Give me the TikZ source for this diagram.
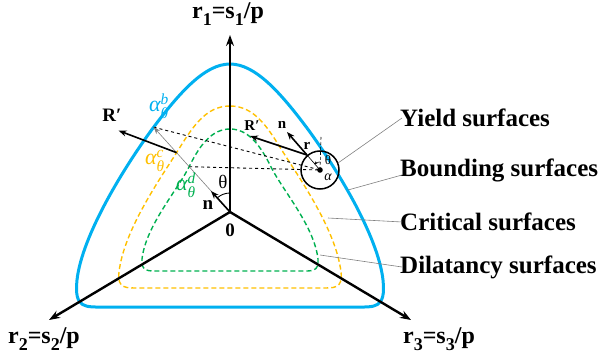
\documentclass[tikz,border=0pt]{standalone}
\usepackage{amsmath}
\usepackage{fontspec}
\setmainfont{Liberation Serif}
\usetikzlibrary{arrows.meta, positioning, calc, intersections}
\definecolor{boundblue}{RGB}{0,176,240}
\definecolor{critorange}{RGB}{255,192,0}
\definecolor{dilagreen}{RGB}{0,176,80}
\newcommand{\axsub}[1]{\raisebox{-0.28em}{\fontsize{18}{18}\selectfont #1}}
\newcommand{\alab}[1]{$\text{\itshape α}^{\text{\itshape #1}}_{\text{\itshape θ}}$}

\begin{document}
\begin{tikzpicture}[x=1pt, y=-1pt,
  axis/.style={line width=2.4pt, -{Stealth[length=11pt,width=8pt]}},
  surf/.style={line width=1.4pt, dash pattern=on 5pt off 3pt},
  leader/.style={gray, line width=0.6pt},
  vec/.style={line width=1.6pt, -{Stealth[length=8pt,width=6pt]}},
  lbl/.style={font=\fontsize{25}{28}\selectfont\bfseries, anchor=west, inner sep=0pt},
  axlbl/.style={font=\fontsize{24}{26}\selectfont\bfseries, inner sep=0pt},
  sym/.style={font=\fontsize{19}{20}\selectfont\bfseries, inner sep=0pt},
  small/.style={font=\fontsize{15}{16}\selectfont\bfseries, inner sep=0pt},
  alpha/.style={font=\fontsize{22}{24}\selectfont, inner sep=0pt}]
  \useasboundingbox (0,0) rectangle (600,358);
  % points
  \coordinate (O) at (230,212);
  \coordinate (t1) at (230,35);
  \coordinate (t2) at (49,320);
  \coordinate (t3) at (411,320);
  \coordinate (A) at (320,170);
  \coordinate (P) at (307,155);
  \coordinate (Rs) at (250,136);
  \coordinate (ns) at (287,132);
  \coordinate (n0) at (211,191);
  \coordinate (ray) at ($(O)+(-0.669*220,-0.743*220)$);
  % Bounding surface
  \draw[boundblue, line width=3pt, name path=bound] (230,64) .. controls (205,64) and (180,92) .. (153,128)
    .. controls (125,166) and (82,235) .. (77,280) .. controls (74,309) and (85,307) .. (105,307)
    -- (355,307) .. controls (375,307) and (386,309) .. (383,280)
    .. controls (378,235) and (335,166) .. (307,128) .. controls (280,92) and (255,64) .. (230,64) -- cycle;
  % Critical surface
  \draw[critorange, surf, name path=crit] (230,106) .. controls (205,106) and (192,128) .. (177,152)
    .. controls (160,179) and (124,230) .. (119,272) .. controls (117,289) and (126,288) .. (140,288)
    -- (320,288) .. controls (334,288) and (343,289) .. (341,272)
    .. controls (336,230) and (300,179) .. (283,152) .. controls (268,128) and (255,106) .. (230,106) -- cycle;
  % Dilatancy surface
  \draw[dilagreen, surf, name path=dila] (230,129) .. controls (212,129) and (200,145) .. (190,165)
    .. controls (178,190) and (146,225) .. (142,259) .. controls (141,272) and (148,271) .. (160,271)
    -- (300,271) .. controls (312,271) and (319,272) .. (318,259)
    .. controls (314,225) and (282,190) .. (270,165) .. controls (260,145) and (248,129) .. (230,129) -- cycle;
  \path[name path=raypath] (O) -- (ray);
  \path[name intersections={of=raypath and bound, by=ab}];
  \path[name intersections={of=raypath and crit, by=ac}];
  \path[name intersections={of=raypath and dila, by=ad}];
  \coordinate (Rl) at ($(ac)+(-58,-22)$);
  % axes
  \draw[axis] (O) -- (t1);
  \draw[axis] (O) -- (t2);
  \draw[axis] (O) -- (t3);
  \node[axlbl] (r1) at (228,14) {r\axsub{1}=s\axsub{1}/p};
  \node[axlbl] (r2) at (44,339) {r\axsub{2}=s\axsub{2}/p};
  \node[axlbl] (r3) at (439,339) {r\axsub{3}=s\axsub{3}/p};
  \node[sym] (zero) at (230,230) {0};
  % mapping lines
  \draw[dashed, line width=0.9pt] (ab) -- (A);
  \draw[dashed, line width=0.9pt] (ad) -- (A);
  \draw[leader, -{Stealth[length=7pt,width=5pt]}] (O) -- (ab);
  \draw[vec] (O) -- (n0);
  \draw[line width=0.9pt] ($(O)+(0,-19)$) arc[start angle=270, end angle=228, radius=19];
  \node[sym, font=\fontsize{19}{20}\selectfont] (th0) at (223,182) {θ};
  \node[sym] (n0l) at (208,205) {n};
  \draw[vec] (ac) -- (Rl);
  \node[sym] (Rll) at (112,115) {R′};
  % labels of the surfaces
  \node[alpha, boundblue] (ablbl) at (159,106) {\alab{b}};
  \node[alpha, critorange] (aclbl) at (155,161) {\alab{c}};
  \node[alpha, dilagreen] (adlbl) at (186,185) {\alab{d}};
  % yield circle
  \draw[line width=1.5pt] (A) circle[radius=19];
  \fill (A) circle[radius=2.8];
  \draw[densely dashed, line width=0.6pt] (321,137) -- (A);
  \draw[line width=0.6pt] (A) -- (P);
  \draw[line width=0.6pt, -{Stealth[length=3pt,width=3pt]}] ($(A)+(0,-8)$) arc[start angle=270, end angle=225, radius=8];
  \draw[vec] (P) -- (Rs);
  \draw[vec] (P) -- (ns);
  \node[small] (Rsl) at (252,126) {R′};
  \node[small] (nsl) at (282,125) {n};
  \node[small] (rl) at (307,146) {r};
  \node[small, font=\fontsize{13}{14}\selectfont] (thl) at (328,160) {θ};
  \node[small, font=\fontsize{14}{14}\selectfont\itshape] (al) at (328,177) {α};
  % legend
  \node[lbl] (yield) at (400,118) {Yield surfaces};
  \node[lbl] (bound) at (400,170) {Bounding surfaces};
  \node[lbl] (crit) at (400,222) {Critical surfaces};
  \node[lbl] (dila) at (400,267) {Dilatancy surfaces};
  \coordinate (yt) at (338,163);
  \coordinate (bt) at (348,190);
  \coordinate (ct) at (328,218);
  \coordinate (dt) at (320,255);
  \draw[leader] ($(yield.west)+(2,0)$) -- (yt);
  \draw[leader] ($(bound.west)+(2,5)$) -- (bt);
  \draw[leader] ($(crit.west)+(2,0)$) -- (ct);
  \draw[leader] ($(dila.west)+(2,0)$) -- (dt);
\end{tikzpicture}
\end{document}
